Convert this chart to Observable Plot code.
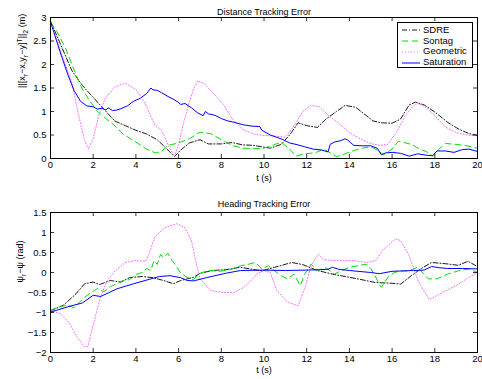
<!DOCTYPE html>
<html><head><meta charset="utf-8">
<script src="https://cdn.jsdelivr.net/npm/d3@7"></script>
<script src="https://cdn.jsdelivr.net/npm/@observablehq/plot@0.6"></script>
<style>
body{margin:0;background:#fff;font-family:"Liberation Sans",Arial,sans-serif;}
#wrap{position:relative;width:482px;height:379px;overflow:hidden;}
#wrap svg{display:block;}
.legend{position:absolute;left:397px;top:22px;width:74px;height:44px;border:1px solid #000;background:#fff;font-size:9.5px;}
.row{position:absolute;left:4px;height:11px;line-height:11px;white-space:nowrap;}
.row svg{display:inline-block !important;vertical-align:middle;margin-right:3px;}
</style></head><body><div id="wrap"></div>
<script>
// ---- labels / ticks ----
const seriesNames = ["SDRE", "Sontag", "Geometric", "Saturation"];
const xTicks = [0, 2, 4, 6, 8, 10, 12, 14, 16, 18, 20];
const distTicks = [0, 0.5, 1, 1.5, 2, 2.5, 3];
const headTicks = [-2, -1.5, -1, -0.5, 0, 0.5, 1, 1.5];
const titleTop = "Distance Tracking Error";
const titleBottom = "Heading Tracking Error";
const xLabel = "t (s)";

// ---- Distance tracking error ----
const distSdreT = [0,0.5,1,1.5,2,2.5,3,3.5,4,4.5,5,5.5,5.8,6.1,6.5,7,7.4,8,8.5,9,9.5,10,10.3,10.8,11.2,11.6,12,12.5,12.9,13.4,13.8,14.3,14.8,15.1,15.5,16,16.4,16.8,17.1,17.5,18,18.6,19.1,19.6,20];
const distSdreV = [2.92,2.4,1.87,1.55,1.3,1.05,0.8,0.7,0.6,0.52,0.4,0.18,0.04,0.18,0.33,0.4,0.31,0.31,0.34,0.29,0.28,0.24,0.22,0.3,0.5,0.76,0.7,0.66,0.84,1.0,1.13,1.09,0.91,0.8,0.76,0.75,0.84,1.14,1.2,1.14,0.99,0.77,0.63,0.53,0.49];

const distSontagT = [0,0.3,0.7,1,1.4,1.8,2.2,2.6,3,3.4,4,4.5,4.9,5.2,5.5,6,6.5,7,7.5,8,8.5,9,9.5,10,10.4,10.8,11.2,11.5,11.9,12.4,12.8,13.1,13.4,13.8,14.2,14.6,15,15.3,15.6,16,16.3,16.9,17.3,17.6,17.9,18.2,18.5,19,19.5,20];
const distSontagV = [2.9,2.7,2.35,2.01,1.55,1.25,1.0,0.85,0.7,0.52,0.35,0.2,0.12,0.15,0.28,0.33,0.42,0.56,0.53,0.4,0.28,0.22,0.21,0.22,0.28,0.35,0.2,0.05,0.1,0.12,0.2,0.12,0.04,0.1,0.17,0.22,0.25,0.18,0.08,0.2,0.37,0.3,0.2,0.15,0.05,0.2,0.32,0.3,0.27,0.22];

const distGeomT = [0,0.4,0.7,1,1.3,1.6,1.78,2,2.25,2.55,3,3.5,4,4.4,4.9,5.2,5.5,5.8,6,6.2,6.5,6.7,6.9,7.2,7.5,7.8,8.1,8.5,9,9.5,10,10.5,11,11.5,11.8,12.2,12.6,13,13.5,14,14.5,15,15.4,15.8,16.2,16.6,17,17.2,17.5,18,18.5,19,19.5,20];
const distGeomV = [2.9,2.4,2.0,1.62,0.95,0.38,0.2,0.42,0.9,1.27,1.52,1.6,1.47,1.2,0.7,0.6,0.3,0.04,0.3,0.7,1.2,1.48,1.65,1.6,1.45,1.3,1.15,0.85,0.62,0.52,0.49,0.48,0.45,0.75,1.0,1.13,1.1,0.92,0.75,0.55,0.42,0.32,0.28,0.3,0.55,0.9,1.12,1.17,1.12,0.91,0.67,0.55,0.5,0.48];

const distSatT = [0,0.2,0.5,0.8,1.1,1.4,1.7,2.0,2.2,2.4,2.6,2.7,2.9,3.1,3.3,3.6,3.9,4.2,4.5,4.7,4.8,5.0,5.2,5.5,5.8,6.0,6.1,6.3,6.6,6.9,7.15,7.25,7.4,7.7,8.0,8.3,8.6,9.0,9.4,9.8,9.9,10.3,10.9,11.2,11.5,11.9,12.3,12.7,13.0,13.1,13.3,13.6,13.8,13.9,14.2,14.6,15.0,15.3,15.5,15.7,16.0,16.4,16.8,17.2,17.6,17.9,18.1,18.5,18.9,19.3,19.6,20];
const distSatV = [2.92,2.62,2.2,1.8,1.45,1.22,1.12,1.1,1.05,1.07,1.03,1.08,1.02,1.03,1.06,1.12,1.22,1.28,1.38,1.5,1.46,1.45,1.4,1.32,1.25,1.19,1.15,1.17,1.08,0.97,0.91,1.0,0.95,0.92,0.85,0.8,0.77,0.72,0.69,0.68,0.6,0.5,0.4,0.33,0.3,0.25,0.2,0.18,0.14,0.3,0.35,0.38,0.42,0.4,0.28,0.27,0.27,0.22,0.08,0.12,0.13,0.11,0.05,0.1,0.07,0.06,0.16,0.16,0.13,0.19,0.2,0.15];

// ---- Heading tracking error ----
const headSdreT = [0,0.6,1.2,1.6,2,2.3,2.8,3.3,3.7,4.3,4.8,5.3,5.75,6.1,6.4,6.7,7,7.6,8.2,8.9,9.9,10.5,11.3,11.8,12.5,13.2,13.6,14.4,15.2,16,16.4,16.9,17.4,17.85,18.5,19.1,19.55,20];
const headSdreV = [-0.96,-0.82,-0.53,-0.28,-0.24,-0.3,-0.2,-0.24,-0.13,-0.1,-0.13,-0.2,-0.28,-0.2,-0.16,-0.12,-0.02,0.05,0.07,0.13,0.04,0.13,0.25,0.2,0.05,-0.04,-0.08,-0.16,-0.25,-0.27,-0.29,-0.08,0.11,0.25,0.22,0.18,0.28,0.15];

const headSontagT = [0,0.4,0.8,1.1,1.4,1.6,1.9,2.2,2.5,2.8,3.1,3.4,3.7,4.0,4.3,4.5,4.7,4.85,5.0,5.15,5.3,5.5,5.7,5.9,6.1,6.4,6.7,7.0,7.4,7.9,8.4,8.9,9.3,9.6,9.9,10.2,10.5,10.8,11.1,11.4,11.7,11.9,12.2,12.5,12.9,13.3,13.6,14.0,14.4,14.8,15.0,15.2,15.4,15.5,15.8,16.1,16.4,16.75,17.2,17.5,17.7,18.1,18.6,19.1,19.6,20];
const headSontagV = [-0.95,-0.85,-0.82,-0.88,-0.72,-0.62,-0.5,-0.4,-0.48,-0.36,-0.28,-0.2,-0.18,-0.05,0.0,0.1,0.05,0.3,0.2,0.45,0.38,0.48,0.3,0.15,-0.02,-0.12,-0.18,-0.02,0.05,0.03,0.07,0.17,0.21,0.25,0.09,0.17,0.04,-0.08,-0.16,-0.04,-0.33,-0.05,0.21,0.05,0.12,-0.04,0.04,0.13,0.17,0.21,0.1,-0.08,-0.3,-0.37,-0.12,0.0,0.04,0.04,0.13,-0.05,-0.16,-0.16,-0.04,0.04,0.09,0.0];

const headGeomT = [0,0.47,0.9,1.25,1.6,1.75,2.05,2.35,2.65,3.05,3.5,4.0,4.45,4.6,4.9,5.35,5.9,6.3,6.6,6.75,7.0,7.5,8.1,8.6,9.05,9.4,9.7,10.0,10.3,10.6,11.1,11.6,11.95,12.2,12.55,12.8,13.2,13.6,14.2,14.8,15.25,15.55,16.15,16.4,16.8,17.25,17.75,18.35,19.0,19.6,20];
const headGeomV = [-0.95,-1.03,-1.28,-1.62,-1.86,-1.85,-1.2,-0.6,-0.2,0.05,0.25,0.3,0.28,0.45,0.9,1.12,1.22,1.12,0.8,0.42,-0.15,-0.45,-0.5,-0.5,-0.37,-0.2,-0.02,0.05,0.0,-0.45,-0.74,-0.83,-0.33,0.17,0.46,0.32,0.3,0.3,0.3,0.25,0.3,0.55,0.84,0.8,0.42,-0.25,-0.68,-0.5,-0.33,-0.12,0.0];

const headSatT = [0,0.8,1.5,2.0,2.35,3.1,3.9,4.7,5.1,5.6,6.1,6.4,6.7,7.3,8.2,8.9,10,11,12,12.6,13.0,13.2,13.5,14,15,15.4,16,17,17.5,17.85,18.2,18.6,19.3,20];
const headSatV = [-0.99,-0.86,-0.76,-0.57,-0.6,-0.41,-0.28,-0.16,-0.1,-0.08,-0.13,-0.2,-0.21,-0.13,-0.02,0.05,0.06,0.05,0.06,0.07,0.08,0.13,0.08,0.05,0.0,-0.03,0.03,0.05,0.06,0.15,0.12,0.1,0.1,0.09];

// ---- styles ----
const styles = [
  {stroke: "#000000", dash: "5,2,1,2", width: 0.9},
  {stroke: "#00e000", dash: "6,4", width: 1},
  {stroke: "#ff66ff", dash: "1,2", width: 1},
  {stroke: "#0000ff", dash: null, width: 1}
];
const FONT = "'Liberation Sans', Arial, Helvetica, sans-serif";
const W = 482;
const rows = (ts, vs) => ts.map((t, i) => ({t, v: vs[i]}));
const minus = d => (d < 0 ? "\u2212" : "") + Math.abs(d);

function panel({height, mt, mb, domain, yTicks, series, title, titleDy, ylabel, ylabelDx, xlabelDy}) {
  const ml = 50, mr = 5;
  const fh = height - mt - mb, fw = W - ml - mr;
  const lines = series.map((s, i) => Plot.line(rows(s[0], s[1]), {
    x: "t", y: "v", stroke: styles[i].stroke, strokeWidth: styles[i].width,
    strokeDasharray: styles[i].dash, strokeLinejoin: "round", curve: "linear"
  }));
  return Plot.plot({
    width: W, height, marginLeft: ml, marginRight: mr, marginTop: mt, marginBottom: mb,
    style: {fontFamily: FONT, fontSize: "10px", background: "white", color: "black", overflow: "visible"},
    x: {domain: [0, 20]},
    y: {domain},
    marks: [
      ...lines,
      Plot.ruleX(xTicks, {x: d => d, insetTop: fh - 4, stroke: "black", strokeWidth: 0.8}),
      Plot.ruleX(xTicks, {x: d => d, insetBottom: fh - 4, stroke: "black", strokeWidth: 0.8}),
      Plot.ruleY(yTicks, {y: d => d, insetRight: fw - 4, stroke: "black", strokeWidth: 0.8}),
      Plot.ruleY(yTicks, {y: d => d, insetLeft: fw - 4, stroke: "black", strokeWidth: 0.8}),
      Plot.frame({stroke: "black", strokeWidth: 1}),
      Plot.axisX({ticks: xTicks, tickSize: 0, tickPadding: 3, label: null, tickFormat: minus, fontSize: 9.5}),
      Plot.axisY({ticks: yTicks, tickSize: 0, tickPadding: 4, label: null, tickFormat: minus, fontSize: 9.5}),
      Plot.text([title], {frameAnchor: "top", dy: titleDy, fontSize: 9, fill: "black"}),
      Plot.text([xLabel], {frameAnchor: "bottom", dy: xlabelDy, fontSize: 9, fill: "black"}),
      Plot.text([ylabel], {frameAnchor: "left", dx: ylabelDx, rotate: -90, fontSize: 9, fill: "black"})
    ]
  });
}

function subsup(svg, plain, parts) {
  d3.select(svg).selectAll("text").filter(function() { return this.textContent === plain; }).each(function() {
    const t = d3.select(this);
    t.text(null);
    let shift = 0;
    for (const [s, kind] of parts) {
      const target = kind === "sub" ? 2.5 : kind === "sup" ? -3.5 : 0;
      const span = t.append("tspan").attr("dy", target - shift).text(s);
      if (kind) span.attr("font-size", 7);
      shift = target;
    }
  });
}

const topLabelPlain = "||[xr\u2212x,yr\u2212y]T||2 (m)";
const botLabelPlain = "\u03c8r\u2212\u03c8 (rad)";

const topSvg = panel({
  height: 190, mt: 17, mb: 32, domain: [0, 3], yTicks: distTicks,
  series: [[distSdreT, distSdreV], [distSontagT, distSontagV], [distGeomT, distGeomV], [distSatT, distSatV]],
  title: titleTop, titleDy: -9, ylabel: topLabelPlain, ylabelDx: -28, xlabelDy: 22
});
subsup(topSvg, topLabelPlain, [["||[x"], ["r", "sub"], ["\u2212x,y"], ["r", "sub"], ["\u2212y]"], ["T", "sup"], ["||"], ["2", "sub"], [" (m)"]]);

const botSvg = panel({
  height: 189, mt: 22, mb: 27, domain: [-2, 1.5], yTicks: headTicks,
  series: [[headSdreT, headSdreV], [headSontagT, headSontagV], [headGeomT, headGeomV], [headSatT, headSatV]],
  title: titleBottom, titleDy: -12, ylabel: botLabelPlain, ylabelDx: -30, xlabelDy: 20
});
subsup(botSvg, botLabelPlain, [["\u03c8"], ["r", "sub"], ["\u2212\u03c8 (rad)"]]);

const wrap = document.getElementById("wrap");
wrap.appendChild(topSvg);
wrap.appendChild(botSvg);

// legend
const leg = document.createElement("div");
leg.className = "legend";
seriesNames.forEach((name, i) => {
  const row = document.createElement("div");
  row.className = "row";
  row.style.top = (1 + i * 10.7) + "px";
  const st = styles[i];
  row.innerHTML = `<svg width="18" height="6"><line x1="0" x2="18" y1="3" y2="3" stroke="${st.stroke}" stroke-width="${st.width}" ${st.dash ? `stroke-dasharray="${st.dash}"` : ""}/></svg><span>${name}</span>`;
  leg.appendChild(row);
});
wrap.appendChild(leg);
</script></body></html>
